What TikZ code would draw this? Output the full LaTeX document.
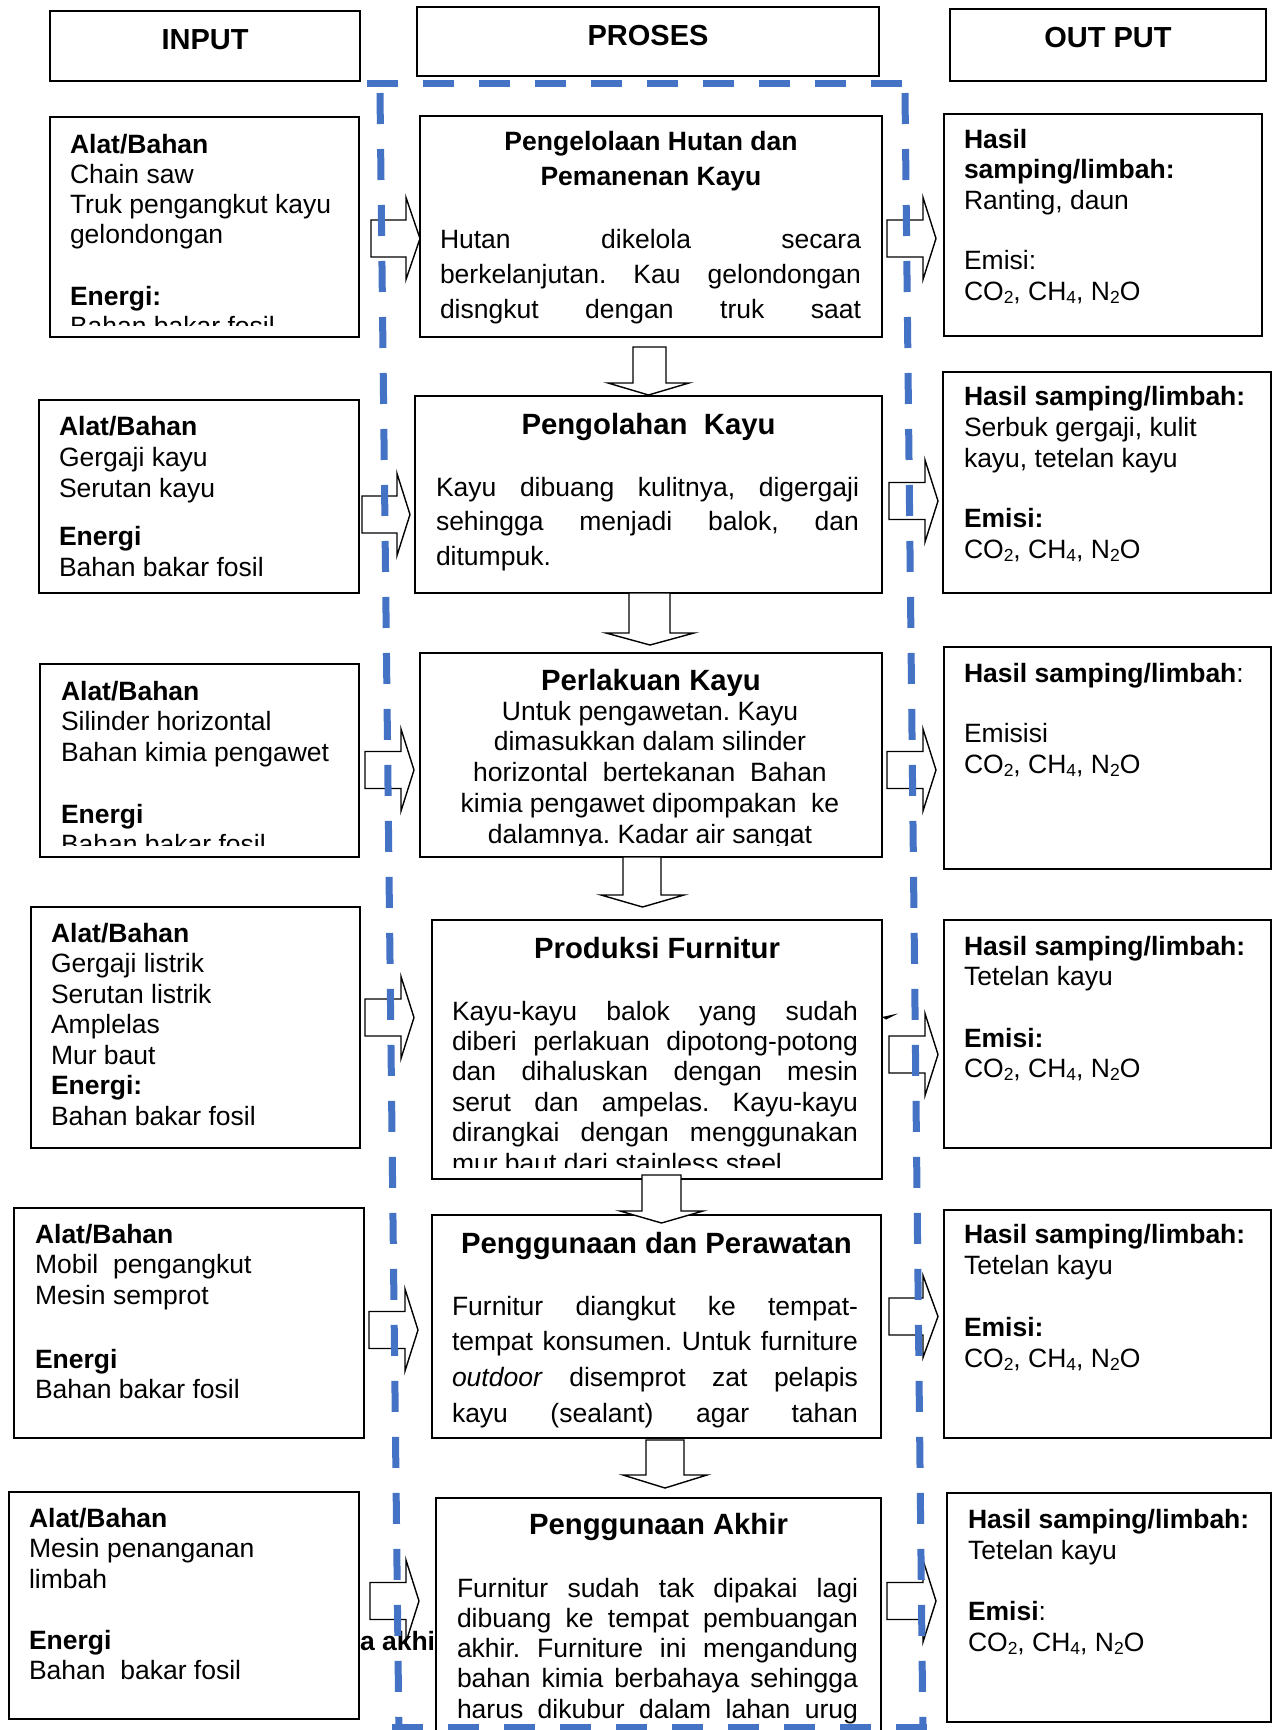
\documentclass[tikz,border=0pt]{standalone}
\usepackage{fontspec}
\setmainfont{Liberation Sans}
\usetikzlibrary{fit}
\definecolor{dashblue}{HTML}{4472C4}
\frenchspacing

% type sizes
\newcommand\bodyfont{\fontsize{26.5}{30.5}\selectfont}
\newcommand\hdrfont{\fontsize{29}{34}\selectfont\bfseries}
\newcommand\ttlfont{\fontsize{29.3}{35}\selectfont\bfseries}
% chemical subscripts
\newcommand\sbs[1]{\raisebox{-3pt}{\fontsize{17.5}{18}\selectfont #1}}
\newcommand\gas{CO\sbs{2}, CH\sbs{4}, N\sbs{2}O}
% a line spread to the full measure
\newcommand\jus[1]{\makebox[\hsize][s]{#1}}
% text blocks: width, baseline distance, lines
\newcommand\tblock[3]{\vtop{\hsize=#1pt\relax\parindent=0pt\parskip=0pt\bodyfont\baselineskip=#2pt\relax\raggedright\noindent #3\par}}
\newcommand\cblock[3]{\vtop{\hsize=#1pt\relax\parindent=0pt\parskip=0pt\bodyfont\baselineskip=#2pt\relax\centering\noindent #3\par}}
% block arrows
\newcommand\rarr[4]{% shaft start, head base, tip, axis
  \draw[blockarrow] (#1,#4-18.5) -- (#2,#4-18.5) -- (#2,#4-41) -- (#3,#4) -- (#2,#4+41) -- (#2,#4+18.5) -- (#1,#4+18.5) -- cycle;}
\newcommand\darr[8]{% shaft left, shaft right, top, head base, head left, head right, tip x, tip y
  \draw[blockarrow] (#1,#3) -- (#2,#3) -- (#2,#4) -- (#6,#4) -- (#7,#8) -- (#5,#4) -- (#1,#4) -- cycle;}

\tikzset{
  panel/.style={draw=black, line width=2pt, fill=white, inner sep=0pt, outer sep=0pt},
  txt/.style={anchor=base west, inner sep=0pt, outer sep=0pt},
  ctxt/.style={anchor=base, inner sep=0pt, outer sep=0pt},
  ttl/.style={anchor=base, inner sep=0pt, outer sep=0pt, font=\ttlfont},
  blockarrow/.style={draw=black, line width=1.4pt, fill=white, line join=miter},
  cutline/.style={draw=dashblue, line width=7pt, dash pattern=on 31pt off 25pt},
}

\begin{document}
\begin{tikzpicture}[x=1pt, y=-1pt]
\useasboundingbox (0,0) rectangle (1274,1730);
\clip (0,0) rectangle (1274,1730);
\fill[white] (0,0) rectangle (1274,1730);

% column headers
\node[panel, fit={(50,11) (360,81)}] (hin) {};
\node[ctxt, font=\hdrfont] (hinT) at (205,49) {INPUT};
\node[panel, fit={(417,7) (879,76)}] (hpr) {};
\node[ctxt, font=\hdrfont] (hprT) at (648,45) {PROSES};
\node[panel, fit={(950,9) (1266,81)}] (hout) {};
\node[ctxt, font=\hdrfont] (houtT) at (1108,47) {OUT PUT};

% input column
\node[panel, fit={(50,117) (359,337)}] (in1) {};
\begin{scope}
\clip (51,118) rectangle (358,325);
\node[txt] (in1T) at (70,153) {\tblock{285}{30}{\textbf{Alat/Bahan}\\ Chain saw\\ Truk pengangkut kayu\\ gelondongan\\[32pt] \textbf{Energi:}\\ Bahan bakar fosil}};
\end{scope}

\node[panel, fit={(39,400) (359,593)}] (in2) {};
\node[txt] (in2T) at (59,435) {\tblock{295}{31}{\textbf{Alat/Bahan}\\ Gergaji kayu\\ Serutan kayu\\[17pt] \textbf{Energi}\\ Bahan bakar fosil}};

\node[panel, fit={(40,664) (359,857)}] (in3) {};
\begin{scope}
\clip (41,665) rectangle (358,845);
\node[txt] (in3T) at (61,700) {\tblock{295}{30.5}{\textbf{Alat/Bahan}\\ Silinder horizontal\\ Bahan kimia pengawet\\[31.5pt] \textbf{Energi}\\ Bahan bakar fosil}};
\end{scope}

\node[panel, fit={(31,907) (360,1148)}] (in4) {};
\node[txt] (in4T) at (51,942) {\tblock{300}{30.5}{\textbf{Alat/Bahan}\\ Gergaji listrik\\ Serutan listrik\\ Amplelas\\ Mur baut\\ \textbf{Energi:}\\ Bahan bakar fosil}};

\node[panel, fit={(14,1208) (364,1438)}] (in5) {};
\node[txt] (in5T) at (35,1243) {\tblock{320}{30.5}{\textbf{Alat/Bahan}\\ Mobil\ \ pengangkut\\ Mesin semprot\\[33.5pt] \textbf{Energi}\\ Bahan bakar fosil}};

\node[panel, fit={(9,1492) (359,1719)}] (in6) {};
\node[txt] (in6T) at (29,1527) {\tblock{320}{30.5}{\textbf{Alat/Bahan}\\ Mesin penanganan\\ limbah\\[30.5pt] \textbf{Energi}\\ Bahan\ \ bakar fosil}};

% output column
\node[panel, fit={(944,114) (1262,336)}] (out1) {};
\node[txt] (out1T) at (964,148) {\tblock{290}{30.8}{\textbf{Hasil}\\ \textbf{samping/limbah:}\\ Ranting, daun\\[29pt] Emisi:\\ \gas}};

\node[panel, fit={(943,372) (1271,593)}] (out2) {};
\node[txt] (out2T) at (964,405) {\tblock{300}{31}{\textbf{Hasil samping/limbah:}\\ Serbuk gergaji, kulit\\ kayu, tetelan kayu\\[29pt] \textbf{Emisi:}\\ \gas}};

\node[panel, fit={(944,647) (1271,869)}] (out3) {};
\node[txt] (out3T) at (964,682) {\tblock{300}{31}{\textbf{Hasil samping/limbah}:\\[29pt] Emisisi\\ \gas}};

\node[panel, fit={(944,920) (1271,1148)}] (out4) {};
\node[txt] (out4T) at (964,955) {\tblock{300}{30.5}{\textbf{Hasil samping/limbah:}\\ Tetelan kayu\\[31pt] \textbf{Emisi:}\\ \gas}};

\node[panel, fit={(944,1210) (1271,1438)}] (out5) {};
\node[txt] (out5T) at (964,1243) {\tblock{300}{31}{\textbf{Hasil samping/limbah:}\\ Tetelan kayu\\[31pt] \textbf{Emisi:}\\ \gas}};

\node[panel, fit={(947,1493) (1271,1722)}] (out6) {};
\node[txt] (out6T) at (968,1528) {\tblock{300}{31}{\textbf{Hasil samping/limbah:}\\ Tetelan kayu\\[30pt] \textbf{Emisi}:\\ \gas}};

% arrows from the inputs into the process steps
\rarr{371}{406}{420}{238.5}
\rarr{362}{397}{410}{514.5}
\rarr{365}{401}{414}{770}
\rarr{365}{401}{414}{1017.5}
\rarr{369}{405}{418}{1330}
\rarr{370}{406}{419}{1601}

% arrows from the process steps to the outputs
\rarr{887}{923}{936}{238.5}
\rarr{889}{925}{938}{501}
\rarr{887}{923}{936}{770}
\rarr{889}{925}{938}{1054.5}
\rarr{889}{923}{938}{1316.5}
\rarr{887}{923}{936}{1601}

% stray heading text behind the last rows
\node[txt, font=\bodyfont\bfseries] (frag) at (360,1650) {a akhir};

% process column
\node[panel, fit={(420,116) (882,337)}] (pr1) {};
\node[ctxt] (pr1H) at (651,150) {\cblock{440}{35}{\bfseries Pengelolaan Hutan dan\\ Pemanenan Kayu}};
\node[txt] (pr1T) at (440,248) {\tblock{421}{35}{\jus{Hutan dikelola secara}\\ \jus{berkelanjutan. Kau gelondongan}\\ \jus{disngkut dengan truk saat}}};

\node[panel, fit={(415,396) (882,593)}] (pr2) {};
\node[ttl] (pr2H) at (648.5,434) {Pengolahan\ \ Kayu};
\node[txt] (pr2T) at (436,496) {\tblock{423}{34.5}{\jus{Kayu dibuang kulitnya, digergaji}\\ \jus{sehingga menjadi balok, dan}\\ ditumpuk.}};

\node[panel, fit={(420,653) (882,857)}] (pr3) {};
\node[ttl] (pr3H) at (651,690) {Perlakuan Kayu};
\begin{scope}
\clip (421,654) rectangle (881,845);
\node[ctxt] (pr3T) at (650,720) {\cblock{456}{30.75}{Untuk pengawetan. Kayu\\ dimasukkan dalam silinder\\ horizontal\ \ bertekanan\ \ Bahan\\ kimia pengawet dipompakan\ \ ke\\ dalamnya. Kadar air sangat}};
\end{scope}

\node[panel, fit={(432,920) (882,1179)}] (pr4) {};
\node[ttl] (pr4H) at (657,958) {Produksi Furnitur};
\begin{scope}
\clip (433,921) rectangle (881,1167);
\node[txt] (pr4T) at (452,1020) {\tblock{406}{30.4}{\jus{Kayu-kayu balok yang sudah}\\ \jus{diberi perlakuan dipotong-potong}\\ \jus{dan dihaluskan dengan mesin}\\ \jus{serut dan ampelas. Kayu-kayu}\\ \jus{dirangkai dengan menggunakan}\\ mur baut dari stainless steel}};
\end{scope}

\node[panel, fit={(432,1215) (881,1438)}] (pr5) {};
\node[ttl] (pr5H) at (656.5,1253) {Penggunaan dan Perawatan};
\node[txt] (pr5T) at (452,1315) {\tblock{406}{35.7}{\jus{Furnitur diangkut ke tempat-}\\ \jus{tempat konsumen. Untuk furniture}\\ \jus{\textit{outdoor} disemprot zat pelapis}\\ \jus{kayu (sealant) agar tahan}}};

\node[panel, fit={(436,1498) (881,1760)}] (pr6) {};
\node[ttl] (pr6H) at (658.5,1534) {Penggunaan Akhir};
\begin{scope}
\clip (437,1499) rectangle (880,1723);
\node[txt] (pr6T) at (457,1597) {\tblock{401}{30.3}{\jus{Furnitur sudah tak dipakai lagi}\\ \jus{dibuang ke tempat pembuangan}\\ \jus{akhir. Furniture ini mengandung}\\ \jus{bahan kimia berbahaya sehingga}\\ \jus{harus dikubur dalam lahan urug}}};
\end{scope}

% arrows between the process steps
\darr{633}{666}{347}{383}{608}{689}{648.5}{395}
\darr{629}{670}{593}{633}{606}{694}{650}{645}
\darr{623}{661}{857}{895}{601}{684}{642.5}{907}
\darr{642}{681}{1175}{1211}{620}{703}{661.5}{1223}
\darr{646}{684}{1440}{1475}{623}{707}{665}{1488}

% small arrow tip peeking out beside the furniture step
\fill[black] (882,1017) -- (898,1013.5) -- (886,1019.5) -- cycle;

% dashed frame round the process column
\draw[cutline] (367,83.5) -- (905,83.5);
\draw[cutline] (380,93) -- (399,1740);
\draw[cutline] (905,93) -- (923,1740);
\draw[cutline] (392,1727) -- (927,1727);
\end{tikzpicture}
\end{document}
